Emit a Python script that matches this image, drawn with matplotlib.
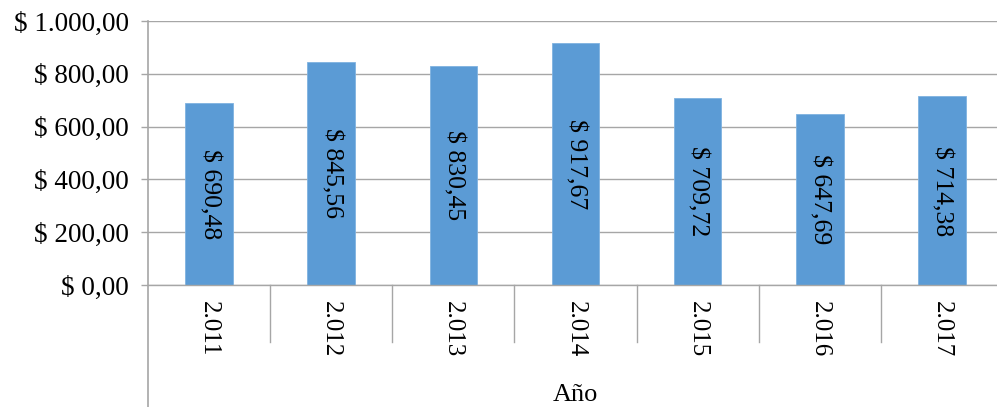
import numpy as np
import matplotlib
matplotlib.use("Agg")
from matplotlib import pyplot as plt

years = ["2.011", "2.012", "2.013", "2.014", "2.015", "2.016", "2.017"]
values = [690.48, 845.56, 830.45, 917.67, 709.72, 647.69, 714.38]
y_ticks = [0, 200, 400, 600, 800, 1000]
y_labels = ["$ 0,00", "$ 200,00", "$ 400,00", "$ 600,00", "$ 800,00", "$ 1.000,00"]

plt.rcParams['font.family'] = ['Liberation Serif', 'DejaVu Serif']

fig = plt.figure(figsize=(9.97, 4.07), dpi=100)
W, H = 997, 407
left, right, top, bottom = 148, 1003, 21, 285
ax = fig.add_axes([left / W, 1 - bottom / H, (right - left) / W, (bottom - top) / H])

grid_col = "#A6A6A6"
x = np.arange(len(years))
ax.bar(x, values, width=0.39, color="#5B9BD5", edgecolor="#7FB2E0", linewidth=0.6, zorder=3)

for xi, v in zip(x, values):
    txt = "$ " + f"{v:.2f}".replace(".", ",")
    ax.text(xi, v / 2, txt, rotation=270, ha="center", va="center", fontsize=18.5, zorder=4)

ax.set_xlim(-0.5, len(years) - 0.5)
ax.set_ylim(0, 1000)
ax.set_yticks(y_ticks)
ax.set_yticklabels(y_labels, fontsize=19.5)
ax.tick_params(axis="y", length=5, width=1, color=grid_col, pad=9)
ax.set_xticks([])
ax.grid(axis="y", color=grid_col, linewidth=1, zorder=0)
for s in ["top", "right", "bottom", "left"]:
    ax.spines[s].set_visible(False)

# axis lines, category separators and year labels
ax.plot([-0.5, len(years) - 0.5], [0, 0], color=grid_col, lw=1, clip_on=False, zorder=5)
trans = ax.get_xaxis_transform()
sep_bottom = -(342 - bottom) / (bottom - top)
axis_bottom = -(407 - bottom) / (bottom - top)
ax.plot([-0.5, -0.5], [1, axis_bottom], color=grid_col, lw=1.2, transform=trans, clip_on=False)
for b in np.arange(0.5, len(years) - 0.5):
    ax.plot([b, b], [0, sep_bottom], color=grid_col, lw=1, transform=trans, clip_on=False)
lab_top = -(301 - bottom) / (bottom - top)
for xi, yr in zip(x, years):
    ax.text(xi, lab_top, yr, rotation=270, ha="center", va="top", fontsize=18, transform=trans)

ax.text(0.5, -(395 - bottom) / (bottom - top), "Año", ha="center", va="center",
        fontsize=19, transform=ax.transAxes)

fig.savefig("out.png", dpi=100)
